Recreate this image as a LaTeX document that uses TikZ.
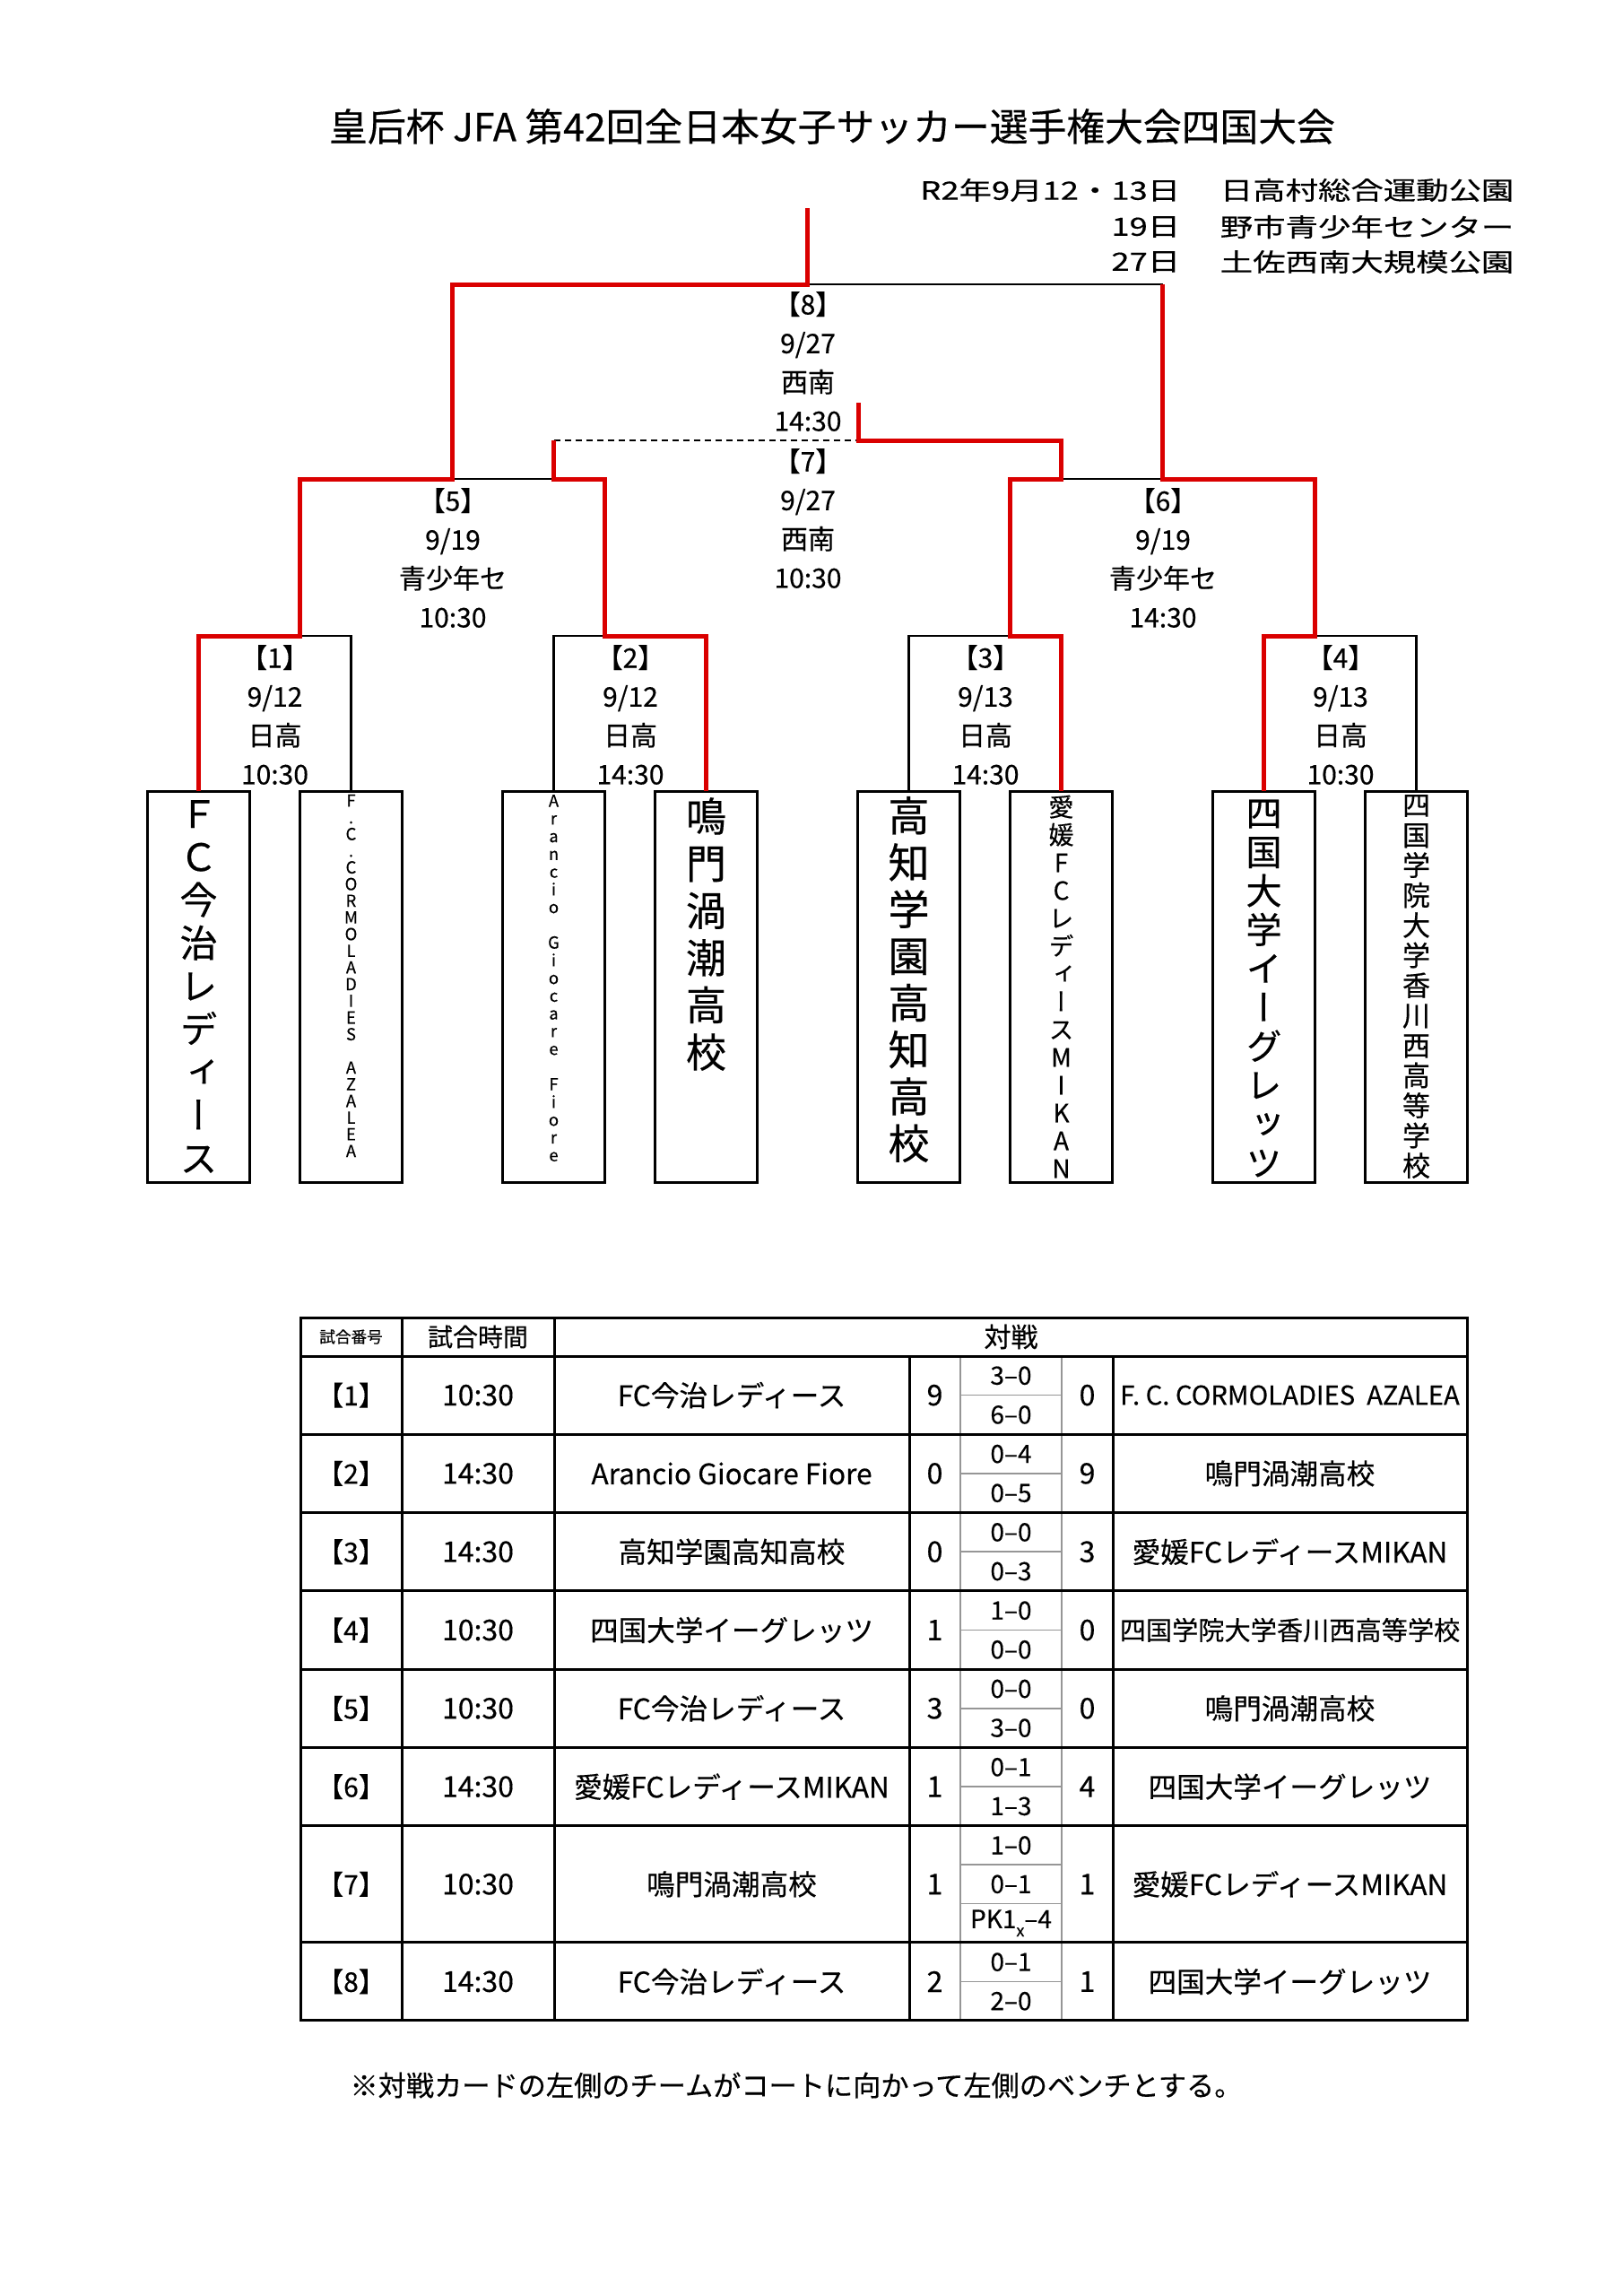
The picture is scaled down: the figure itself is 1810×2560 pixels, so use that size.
\documentclass[tikz,border=0pt]{standalone}
\usepackage{fontspec}
\setmainfont{Noto Sans CJK JP}[FakeBold=0.4]
\newfontfamily\vjp[RawFeature=+vert,FakeBold=0.4]{Noto Sans CJK JP}
\newfontfamily\widejp[FakeStretch=1.3,FakeBold=0.4]{Noto Sans CJK JP}
\usetikzlibrary{positioning,calc}

\definecolor{winred}{RGB}{218,0,0}
\definecolor{rulegray}{RGB}{150,150,150}

% size in pt, baselineskip in pt, fixed line pitch
\newcommand{\fsz}[2]{\fontsize{#1pt}{#2pt}\selectfont\lineskiplimit=-\maxdimen}

\begin{document}
\begin{tikzpicture}[%
    x=0.25pt, y=-0.25pt,
    text=black,
    win/.style={draw=winred, line width=1.25pt},
    lose/.style={draw=black, line width=0.6pt},
    third/.style={draw=black, line width=0.5pt, dash pattern=on 1.75pt off 1.25pt},
    teambox/.style={rectangle, draw, line width=0.75pt, inner sep=0pt,
      outer sep=0pt, minimum width=28.5pt, minimum height=109pt},
    vname/.style={align=center, inner sep=0pt},
    info/.style={align=center, inner sep=0pt, font=\fsz{7.5}{10.83}},
    rule/.style={line width=0.75pt},
    hair/.style={draw=rulegray, line width=0.4pt},
    cell/.style={inner sep=0pt}]

  \useasboundingbox (0,0) rectangle (1810,2560);

  % --- heading ---
  \node (title) [cell, font=\fsz{10.7}{12}] at (928,141)
        {皇后杯 JFA 第42回全日本女子サッカー選手権大会四国大会};

  \node (d1) [cell, anchor=east, font=\widejp\fsz{7}{8}] at (1317,212) {R2年9月12・13日};
  \node (v1) [cell, anchor=west, font=\widejp\fsz{7}{8}] at (1360,212) {日高村総合運動公園};
  \node (d2) [cell, anchor=east, font=\widejp\fsz{7}{8}] at (1317,253) {19日};
  \node (v2) [cell, anchor=west, font=\widejp\fsz{7}{8}] at (1360,253) {野市青少年センター};
  \node (d3) [cell, anchor=east, font=\widejp\fsz{7}{8}] at (1317,292) {27日};
  \node (v3) [cell, anchor=west, font=\widejp\fsz{7}{8}] at (1360,292) {土佐西南大規模公園};

  % --- team boxes ---
  \node (t1) [teambox] at (221.5,1100) {};
  \node (t2) [teambox, right=14pt of t1] {};
  \node (t3) [teambox, right=28pt of t2] {};
  \node (t4) [teambox, right=14pt of t3] {};
  \node (t5) [teambox, right=28pt of t4] {};
  \node (t6) [teambox, right=14pt of t5] {};
  \node (t7) [teambox, right=28pt of t6] {};
  \node (t8) [teambox, right=14pt of t7] {};

  \node (n1) [vname, font=\vjp\fsz{10.5}{12}] at (t1)
        {Ｆ\\Ｃ\\今\\治\\レ\\デ\\ィ\\ー\\ス};
  \node (n2) [vname, font=\vjp\fsz{4.6}{4.65}] at ($(t2)+(0,-12)$)
        {F\\.\\C\\.\\C\\O\\R\\M\\O\\L\\A\\D\\I\\E\\S\\\mbox{}\\A\\Z\\A\\L\\E\\A};
  \node (n3) [vname, font=\vjp\fsz{4.6}{4.94}] at ($(t3)+(0,-9.5)$)
        {A\\r\\a\\n\\c\\i\\o\\\mbox{}\\G\\i\\o\\c\\a\\r\\e\\\mbox{}\\F\\i\\o\\r\\e};
  \node (n4) [vname, font=\vjp\fsz{11.25}{13.15}] at ($(t4)+(0,-58.5)$)
        {鳴\\門\\渦\\潮\\高\\校};
  \node (n5) [vname, font=\vjp\fsz{11.5}{13.05}] at ($(t5)+(0,-8)$)
        {高\\知\\学\\園\\高\\知\\高\\校};
  \node (n6) [vname, font=\vjp\fsz{7}{7.75}] at (t6)
        {愛\\媛\\F\\C\\レ\\デ\\ィ\\ー\\ス\\M\\I\\K\\A\\N};
  \node (n7) [vname, font=\vjp\fsz{10}{10.83}] at ($(t7)+(0,2)$)
        {四\\国\\大\\学\\イ\\ー\\グ\\レ\\ッ\\ツ};
  \node (n8) [vname, font=\vjp\fsz{7.75}{8.375}] at (t8)
        {四\\国\\学\\院\\大\\学\\香\\川\\西\\高\\等\\学\\校};

  % --- junctions ---
  \coordinate (r1) at (0,709);
  \coordinate (r2) at (0,534);
  \coordinate (r3) at (0,317);
  \coordinate (r7) at (0,491);

  \coordinate (m1) at (t2.west |- r1);
  \coordinate (m2) at (t3.east |- r1);
  \coordinate (m3) at (t6.west |- r1);
  \coordinate (m4) at (t7.east |- r1);
  \coordinate (m5) at ($(m1 |- r2)!0.5!(m2 |- r2)$);
  \coordinate (m6) at ($(m3 |- r2)!0.5!(m4 |- r2)$);
  \coordinate (m8) at ($(m5 |- r3)!0.5!(m6 |- r3)$);
  \coordinate (champ) at ($(m8)+(0,-85)$);

  % third place play-off
  \coordinate (s5) at (t3 |- r2);
  \coordinate (s6) at (t6 |- r2);
  \coordinate (p7l) at (t3 |- r7);
  \coordinate (p7r) at (t6 |- r7);
  \coordinate (p7) at (957,491);
  \coordinate (p7t) at (957,449);

  % --- losing lines ---
  \draw[lose] (m1) -| (t2.north);
  \draw[lose] (t3.north) |- (m2);
  \draw[lose] (t5.north) |- (m3);
  \draw[lose] (m4) -| (t8.north);
  \draw[lose] (m5) -- (s5);
  \draw[lose] (s6) -- (m6);
  \draw[lose] (m8) -- (m6 |- m8);
  \draw[third] (p7l) -- (p7);

  % --- winning lines ---
  \draw[win] (t1.north) |- (m1) |- (m5) |- (m8) -- (champ);
  \draw[win] (t4.north) |- (m2) |- (s5) -- (p7l);
  \draw[win] (t6.north) |- (m3) |- (s6) -- (p7r) -- (p7) -- (p7t);
  \draw[win] (t7.north) |- (m4) |- (m6) -- (m6 |- m8);

  % --- match labels ---
  \node (l1) [info] at (306.5,797) {【1】\\9/12\\日高\\10:30};
  \node (l2) [info] at (703,797) {【2】\\9/12\\日高\\14:30};
  \node (l3) [info] at (1099,797) {【3】\\9/13\\日高\\14:30};
  \node (l4) [info] at (1495,797) {【4】\\9/13\\日高\\10:30};
  \node (l5) [info] at (505,622) {【5】\\9/19\\青少年セ\\10:30};
  \node (l6) [info] at (1297,622) {【6】\\9/19\\青少年セ\\14:30};
  \node (l7) [info] at (901,578) {【7】\\9/27\\西南\\10:30};
  \node (l8) [info] at (901,403) {【8】\\9/27\\西南\\14:30};

  % --- results table ---
  \draw[hair] (1071,1512) -- (1071,2252);
  \draw[hair] (1184,1512) -- (1184,2252);
  \draw[hair] (1071,2079.1) -- (1184,2079.1);
  \draw[hair] (1071,2122.5) -- (1184,2122.5);

  \draw[rule] (335,1469) rectangle (1636,2252);
  \foreach \yy in {1512,1599.3,1686.6,1773.9,1861.2,1948.5,2035.8,2165.8}
    \draw[rule] (335,\yy) -- (1636,\yy);
  \draw[rule] (448,1469) -- (448,2252);
  \draw[rule] (618,1469) -- (618,2252);
  \draw[rule] (1014,1512) -- (1014,2252);
  \draw[rule] (1241,1512) -- (1241,2252);

  \node (h1) [cell, font=\fsz{4.4}{5}] at (391.5,1490.5) {試合番号};
  \node (h2) [cell, font=\fsz{7}{8}] at (533,1490.5) {試合時間};
  \node (h3) [cell, font=\fsz{7.5}{8}] at (1127.5,1490.5) {対戦};

  \foreach \n/\ry/\tm/\ta/\ga/\pa/\pb/\gb/\tb/\rs in {%
      1/1512.0/10:30/FC今治レディース/9/3--0/6--0/0/{F. C. CORMOLADIES\ \ AZALEA}/7.3,
      2/1599.3/14:30/Arancio Giocare Fiore/0/0--4/0--5/9/鳴門渦潮高校/7.9,
      3/1686.6/14:30/高知学園高知高校/0/0--0/0--3/3/愛媛FCレディースMIKAN/7.9,
      4/1773.9/10:30/四国大学イーグレッツ/1/1--0/0--0/0/四国学院大学香川西高等学校/7.3,
      5/1861.2/10:30/FC今治レディース/3/0--0/3--0/0/鳴門渦潮高校/7.9,
      6/1948.5/14:30/愛媛FCレディースMIKAN/1/0--1/1--3/4/四国大学イーグレッツ/7.9,
      8/2165.8/14:30/FC今治レディース/2/0--1/2--0/1/四国大学イーグレッツ/7.9}
  {
    \node (no\n) [cell, font=\fsz{7.5}{9}] at (391.5,\ry+43.6) {【\n】};
    \node (tm\n) [cell, font=\fsz{8}{9}] at (533,\ry+43.6) {\tm};
    \node (ta\n) [cell, font=\fsz{7.9}{9}] at (816,\ry+43.6) {\ta};
    \node (ga\n) [cell, font=\fsz{8}{9}] at (1042.5,\ry+43.6) {\ga};
    \node (pa\n) [cell, font=\fsz{7}{8}] at (1127.5,\ry+21.8) {\pa};
    \node (pb\n) [cell, font=\fsz{7}{8}] at (1127.5,\ry+65.4) {\pb};
    \node (gb\n) [cell, font=\fsz{8}{9}] at (1212.5,\ry+43.6) {\gb};
    \node (tb\n) [cell, font=\fsz{\rs}{9}] at (1438.5,\ry+43.6) {\tb};
    \draw[hair] (1071,\ry+43.6) -- (1184,\ry+43.6);
  }

  % match 7 has extra PK line
  \node (no7) [cell, font=\fsz{7.5}{9}] at (391.5,2100.8) {【7】};
  \node (tm7) [cell, font=\fsz{8}{9}] at (533,2100.8) {10:30};
  \node (ta7) [cell, font=\fsz{7.9}{9}] at (816,2100.8) {鳴門渦潮高校};
  \node (ga7) [cell, font=\fsz{8}{9}] at (1042.5,2100.8) {1};
  \node (pa7) [cell, font=\fsz{7}{8}] at (1127.5,2057.5) {1--0};
  \node (pb7) [cell, font=\fsz{7}{8}] at (1127.5,2100.8) {0--1};
  \node (pk7) [cell, font=\fsz{7}{8}] at (1127.5,2144.2)
        {PK1\raisebox{-0.6ex}{\fsz{4.5}{5}x}--4};
  \node (gb7) [cell, font=\fsz{8}{9}] at (1212.5,2100.8) {1};
  \node (tb7) [cell, font=\fsz{7.9}{9}] at (1438.5,2100.8) {愛媛FCレディースMIKAN};

  \node (note) [cell, font=\fsz{7.8}{9}] at (888,2325)
        {※対戦カードの左側のチームがコートに向かって左側のベンチとする。};
\end{tikzpicture}
\end{document}
